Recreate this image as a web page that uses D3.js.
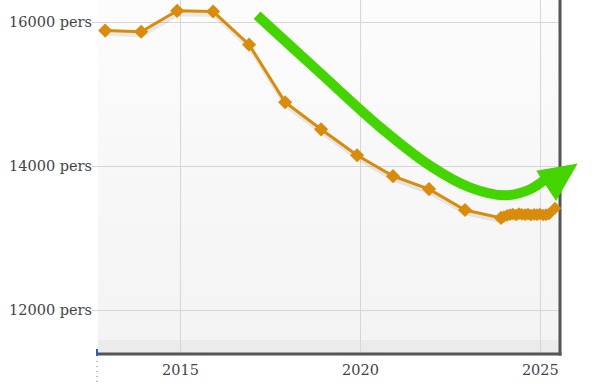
<!DOCTYPE html>
<html>
<head>
<meta charset="utf-8">
<script src="https://cdn.jsdelivr.net/npm/d3@7"></script>
<style>
  body { margin: 0; background: #fff; }
  svg { display: block; }
  .tick text { font-family: "DejaVu Serif", Georgia, serif; font-size: 14.5px; fill: #444; }
</style>
</head>
<body>
<div id="chart"></div>
<script>
// yearly population, plotted a little before each new year
const years = [2013, 2014, 2015, 2016, 2017, 2018, 2019, 2020, 2021, 2022, 2023, 2024]
const population = [15875, 15860, 16150, 16140, 15680, 14880, 14505, 14145, 13855, 13675, 13385, 13275]

// recent monthly readings
const recentDates = [2024.08, 2024.17, 2024.25, 2024.33, 2024.42, 2024.5, 2024.58, 2024.67, 2024.75,
  2024.83, 2024.92, 2025.0, 2025.08, 2025.17, 2025.25, 2025.33, 2025.5]
const recentPopulation = [13295, 13310, 13320, 13330, 13315, 13335, 13325, 13320, 13330,
  13315, 13325, 13320, 13330, 13315, 13320, 13330, 13410]

const yTicks = [12000, 14000, 16000]
const xTicks = [2015, 2020, 2025]

// trend arrow, in (year, persons)
const trendYears = [2017.14, 2018.9, 2020.55, 2021.95, 2023.05, 2024.03, 2024.72, 2025.2]
const trendValues = [16090, 15285, 14540, 14000, 13700, 13590, 13670, 13830]
const headYears = [2024.9, 2026.05, 2025.45]
const headValues = [13930, 14030, 13510]

const W = 605, H = 388
const mLeft = 98, mRight = 560, mBottom = 353, mTop = 0

const x = d3.scaleLinear().domain([2012.72, 2025.56]).range([mLeft, mRight])
const y = d3.scaleLinear().domain([11400, 16300]).range([mBottom, mTop])
const shift = -0.08

const svg = d3.select('#chart').append('svg').attr('width', W).attr('height', H)

const defs = svg.append('defs')
const grad = defs.append('linearGradient').attr('id', 'bg').attr('x1', 0).attr('x2', 0).attr('y1', 0).attr('y2', 1)
grad.append('stop').attr('offset', '0%').attr('stop-color', '#fcfcfc')
grad.append('stop').attr('offset', '100%').attr('stop-color', '#f3f3f3')

svg.append('rect')
    .attr('x', mLeft).attr('y', mTop)
    .attr('width', mRight - mLeft).attr('height', mBottom - mTop)
    .attr('fill', 'url(#bg)')
svg.append('rect')
    .attr('x', mLeft).attr('y', mBottom - 13)
    .attr('width', mRight - mLeft).attr('height', 13)
    .attr('fill', '#ebebeb')

// grid
svg.append('g')
  .selectAll('line')
  .data(yTicks)
  .enter().append('line')
    .attr('x1', mLeft - 6).attr('x2', mRight)
    .attr('y1', d => Math.round(y(d)) + 0.5).attr('y2', d => Math.round(y(d)) + 0.5)
    .attr('stroke', '#d6d6d6')
svg.append('g')
  .selectAll('line')
  .data(xTicks)
  .enter().append('line')
    .attr('x1', d => Math.round(x(d)) + 0.5).attr('x2', d => Math.round(x(d)) + 0.5)
    .attr('y1', mTop).attr('y2', mBottom)
    .attr('stroke', '#d6d6d6')

// axes labels
const yAxis = d3.axisLeft(y).tickValues(yTicks).tickSize(0).tickPadding(6)
    .tickFormat(d => d + ' pers')
svg.append('g')
    .attr('transform', 'translate(' + mLeft + ',0)')
    .call(yAxis)
    .call(g => g.select('.domain').remove())

const xAxis = d3.axisBottom(x).tickValues(xTicks).tickSize(0).tickPadding(12)
    .tickFormat(d3.format('d'))
svg.append('g')
    .attr('transform', 'translate(0,' + mBottom + ')')
    .call(xAxis)
    .call(g => g.select('.domain').remove())

// frame
svg.append('line')
    .attr('x1', mLeft).attr('x2', mRight + 1.5)
    .attr('y1', mBottom + 1).attr('y2', mBottom + 1)
    .attr('stroke', '#555').attr('stroke-width', 3)
svg.append('line')
    .attr('x1', mRight).attr('x2', mRight)
    .attr('y1', mTop).attr('y2', mBottom + 2.5)
    .attr('stroke', '#555').attr('stroke-width', 3)
svg.append('line')
    .attr('x1', mLeft - 1).attr('x2', mLeft - 1)
    .attr('y1', mBottom - 4).attr('y2', mBottom + 3)
    .attr('stroke', '#2a5bd7').attr('stroke-width', 2)
svg.append('line')
    .attr('x1', mLeft - 1).attr('x2', mLeft - 1)
    .attr('y1', mBottom + 8).attr('y2', H - 2)
    .attr('stroke', '#777').attr('stroke-dasharray', '1,4')

// series
const yearly = years.map((d, i) => [d + shift, population[i]])
const recent = recentDates.map((d, i) => [d + shift, recentPopulation[i]])
const pts = yearly.concat(recent)

const line = d3.line().x(d => x(d[0])).y(d => y(d[1]))

svg.append('path')
    .datum(pts)
    .attr('d', line)
    .attr('transform', 'translate(1,3)')
    .attr('fill', 'none')
    .attr('stroke', '#000').attr('stroke-opacity', 0.08).attr('stroke-width', 5)

svg.append('path')
    .datum(pts)
    .attr('d', line)
    .attr('fill', 'none')
    .attr('stroke', '#d98c0b').attr('stroke-width', 3)

svg.append('g')
  .selectAll('path')
  .data(yearly)
  .enter().append('path')
    .attr('d', d3.symbol().type(d3.symbolSquare).size(100))
    .attr('transform', d => 'translate(' + x(d[0]) + ',' + y(d[1]) + ') rotate(45)')
    .attr('fill', '#d98c0b')
svg.append('g')
  .selectAll('path')
  .data(recent)
  .enter().append('path')
    .attr('d', d3.symbol().type(d3.symbolSquare).size(80))
    .attr('transform', d => 'translate(' + x(d[0]) + ',' + y(d[1]) + ') rotate(45)')
    .attr('fill', '#d98c0b')

// trend arrow
const trend = trendYears.map((d, i) => [d, trendValues[i]])
svg.append('path')
    .datum(trend)
    .attr('d', d3.line().x(d => x(d[0])).y(d => y(d[1])).curve(d3.curveCatmullRom))
    .attr('fill', 'none')
    .attr('stroke', '#44d400').attr('stroke-width', 10)
svg.append('path')
    .datum(headYears.map((d, i) => [d, headValues[i]]))
    .attr('d', d3.line().x(d => x(d[0])).y(d => y(d[1])).curve(d3.curveLinearClosed))
    .attr('fill', '#44d400')
</script>
</body>
</html>
